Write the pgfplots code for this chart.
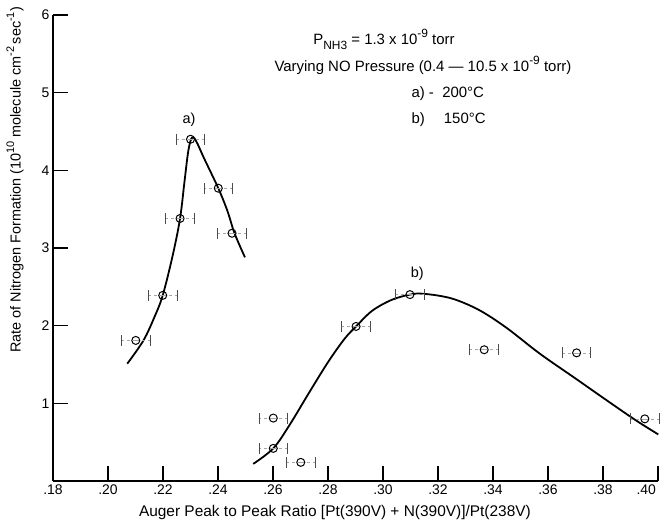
\documentclass[border=0pt]{standalone}
\usepackage{fontspec}
\setmainfont{Liberation Sans}
\usepackage{pgfplots}
\pgfplotsset{compat=1.18}
\newcommand{\mysub}[1]{\raisebox{-0.35em}{\fontsize{12}{12}\selectfont #1}}
\newcommand{\mysup}[1]{\raisebox{0.45em}{\fontsize{12}{12}\selectfont #1}}
\newcommand{\ysup}[1]{\raisebox{0.45em}{\fontsize{11}{11}\selectfont #1}}
\begin{document}
\begin{tikzpicture}
\path[use as bounding box] (-53bp,-45bp) rectangle (609bp,481bp);
\begin{axis}[
  at={(0,0)}, anchor=south west,
  scale only axis, width=605bp, height=466bp,
  xmin=0.18, xmax=0.40, ymin=0, ymax=6,
  axis lines*=left,
  axis line style={line width=1.6bp, black},
  tick style={line width=1.3bp, black},
  major tick length=15bp,
  tick align=inside,
  xtick={0.18,0.20,0.22,0.24,0.26,0.28,0.30,0.32,0.34,0.36,0.38,0.40},
  xticklabels={.18,.20,.22,.24,.26,.28,.30,.32,.34,.36,.38,\hbox to 0pt{\hss.40\hskip2bp}},
  ytick={1,2,3,4,5,6},
  tick label style={font=\fontsize{14}{16}\selectfont},
  /pgf/number format/assume math mode=true,
  xlabel={Auger Peak to Peak Ratio [Pt(390V) + N(390V)]/Pt(238V)},
  ylabel={Rate of Nitrogen Formation (10\ysup{10} molecule cm\ysup{-2}\,sec\ysup{-1})},
  every axis x label/.style={at={(axis description cs:0.466,-0.068)}, anchor=center, font=\fontsize{15.5}{17}\selectfont},
  every axis y label/.style={at={(axis description cs:-0.0628,0.646)}, rotate=90, anchor=center, font=\fontsize{14.5}{16}\selectfont},
  clip=false,
]
% fitted curve a (200 C)
\addplot[black, line width=1.8bp, smooth, tension=0.55] coordinates {
 (0.2070,1.51) (0.2129,1.81) (0.2170,2.12) (0.2199,2.39) (0.2235,2.90)
 (0.2262,3.38) (0.2278,3.85) (0.2292,4.25) (0.2305,4.42) (0.2320,4.38)
 (0.2350,4.15) (0.2401,3.77) (0.2435,3.47) (0.2460,3.19) (0.2498,2.88)
};
% fitted curve b (150 C)
\addplot[black, line width=1.8bp, smooth, tension=0.55] coordinates {
 (0.2528,0.22) (0.2601,0.42) (0.2660,0.72) (0.2730,1.13) (0.2800,1.53)
 (0.2860,1.83) (0.2902,1.99) (0.2960,2.19) (0.3030,2.33) (0.3098,2.40)
 (0.3150,2.41) (0.3250,2.35) (0.3350,2.20) (0.3450,1.97) (0.3570,1.64)
 (0.3700,1.32) (0.3813,1.04) (0.3920,0.78) (0.4001,0.60)
};
% data a
\addplot[only marks, mark=o, mark size=4bp, mark options={fill=white, black, line width=1bp},
  error bars/.cd, x dir=both, x explicit,
  error bar style={gray!70, dashed, line width=0.7bp},
  error mark=|, error mark options={gray!60!black, line width=0.9bp, mark size=5.5bp, solid}]
 coordinates {
 (0.2101,1.81) +- (0.0052,0)
 (0.2199,2.39) +- (0.0052,0)
 (0.2262,3.38) +- (0.0052,0)
 (0.2300,4.40) +- (0.0052,0)
 (0.2401,3.77) +- (0.0052,0)
 (0.2451,3.19) +- (0.0052,0)
};
% data b
\addplot[only marks, mark=o, mark size=4bp, mark options={fill=white, black, line width=1bp},
  error bars/.cd, x dir=both, x explicit,
  error bar style={gray!70, dashed, line width=0.7bp},
  error mark=|, error mark options={gray!60!black, line width=0.9bp, mark size=5.5bp, solid}]
 coordinates {
 (0.2601,0.42) +- (0.0052,0)
 (0.2601,0.81) +- (0.0052,0)
 (0.2701,0.24) +- (0.0052,0)
 (0.2902,1.99) +- (0.0052,0)
 (0.3098,2.40) +- (0.0052,0)
 (0.3368,1.69) +- (0.0052,0)
 (0.3704,1.65) +- (0.0052,0)
 (0.3952,0.80) +- (0.0052,0)
};
\node[font=\fontsize{14.5}{16}\selectfont] at (axis cs:0.2295,4.65) {a)};
\node[font=\fontsize{14.5}{16}\selectfont] at (axis cs:0.3125,2.67) {b)};
\node[anchor=west, font=\fontsize{15}{17}\selectfont] at (axis cs:0.2734,5.68) {P\mysub{NH3} = 1.3 x 10\mysup{-9} torr};
\node[anchor=east, font=\fontsize{15}{17}\selectfont] at (axis cs:0.3698,5.35) {Varying NO Pressure (0.4 — 10.5 x 10\mysup{-9} torr)};
\node[anchor=west, font=\fontsize{15}{17}\selectfont] at (axis cs:0.3091,4.99) {a) - \ 200°C};
\node[anchor=west, font=\fontsize{15}{17}\selectfont] at (axis cs:0.3091,4.65) {b) \quad 150°C};
\end{axis}
\end{tikzpicture}
\end{document}
